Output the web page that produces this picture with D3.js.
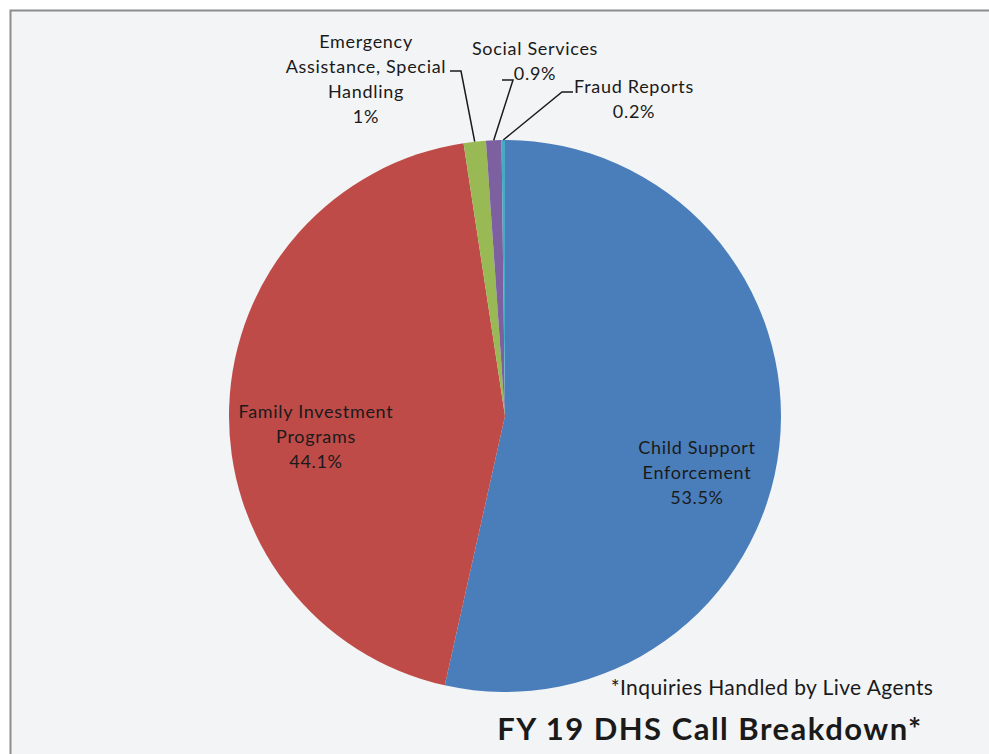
<!DOCTYPE html>
<html>
<head>
<meta charset="utf-8">
<script src="https://cdnjs.cloudflare.com/ajax/libs/d3/7.8.5/d3.min.js"></script>
<style>
  body { margin: 0; background: #fff; }
  text { font-family: Lato, "Open Sans", sans-serif; fill: #1a1a1a; }
</style>
</head>
<body>
<div id="chart"></div>
<script>
// slice data, clockwise from 12 o'clock
var categories = ["Child Support\nEnforcement", "Family Investment\nPrograms", "Emergency\nAssistance, Special\nHandling", "Social Services", "Fraud Reports"];
var values = [53.5, 44.1, 1.3, 0.9, 0.2];
var valueLabels = ["53.5%", "44.1%", "1%", "0.9%", "0.2%"];
var colors = ["#4a7ebb", "#be4b48", "#98b954", "#7d60a0", "#46aac5"];

var w = 989, h = 754;
var cx = 505, cy = 416, r = 276;

var svg = d3.select("#chart").append("svg")
    .attr("width", w)
    .attr("height", h);

// chart area frame
svg.append("rect")
    .attr("x", 10.5).attr("y", 10.5)
    .attr("width", w + 20).attr("height", h + 20)
    .attr("fill", "#f3f4f6")
    .attr("stroke", "#8c8c8c")
    .attr("stroke-width", 2);

var data = categories.map(function (c, i) {
    return { name: c, value: values[i], label: valueLabels[i], color: colors[i] };
});

var pie = d3.pie().sort(null).value(function (d) { return d.value; });
var arc = d3.arc().innerRadius(0).outerRadius(r);
var arcs = pie(data);

var g = svg.append("g").attr("transform", "translate(" + cx + "," + cy + ")");

g.selectAll("path")
    .data(arcs)
    .enter()
    .append("path")
    .attr("d", arc)
    .attr("fill", function (d) { return d.data.color; });

// label layout: inside labels offset from centre, outside ones at fixed text anchors
var lineH = 25;
var labelLayout = [
    { inside: true, dx: 192, dy: 32 },
    { inside: true, dx: -189, dy: -4 },
    { inside: false, x: 366, y: 42, lx: 450, ly: 71, hx: 461 },
    { inside: false, x: 535, y: 49, lx: 502, ly: 80, hx: 513 },
    { inside: false, x: 634, y: 87, lx: 573, ly: 92, hx: 562 }
];

arcs.forEach(function (d, i) {
    var lay = labelLayout[i];
    var lines = d.data.name.split("\n").concat([d.data.label]);
    var mid = (d.startAngle + d.endAngle) / 2;
    var tx, ty;
    if (lay.inside) {
        tx = cx + lay.dx; ty = cy + lay.dy;
    } else {
        tx = lay.x; ty = lay.y;
        // leader line to slice edge
        var ex = cx + Math.sin(mid) * r, ey = cy - Math.cos(mid) * r;
        svg.append("polyline")
            .attr("points", [[lay.lx, lay.ly], [lay.hx, lay.ly], [ex, ey]].map(function (p) { return p.join(","); }).join(" "))
            .attr("fill", "none")
            .attr("stroke", "#1a1a1a")
            .attr("stroke-width", 1.5);
    }
    var t = svg.append("text")
        .attr("text-anchor", "middle")
        .attr("font-size", 18)
        .attr("letter-spacing", 0.7);
    lines.forEach(function (l, k) {
        t.append("tspan")
            .attr("x", tx)
            .attr("y", ty + k * lineH)
            .attr("dy", "0.35em")
            .text(l);
    });
});

svg.append("text")
    .attr("x", 772).attr("y", 688)
    .attr("dy", "0.35em")
    .attr("text-anchor", "middle")
    .attr("font-size", 21)
    .attr("letter-spacing", 0.4)
    .text("*Inquiries Handled by Live Agents");

svg.append("text")
    .attr("x", 710).attr("y", 729)
    .attr("dy", "0.35em")
    .attr("text-anchor", "middle")
    .attr("font-size", 31)
    .attr("font-weight", "bold")
    .attr("letter-spacing", 1.5)
    .text("FY 19 DHS Call Breakdown*");
</script>
</body>
</html>
